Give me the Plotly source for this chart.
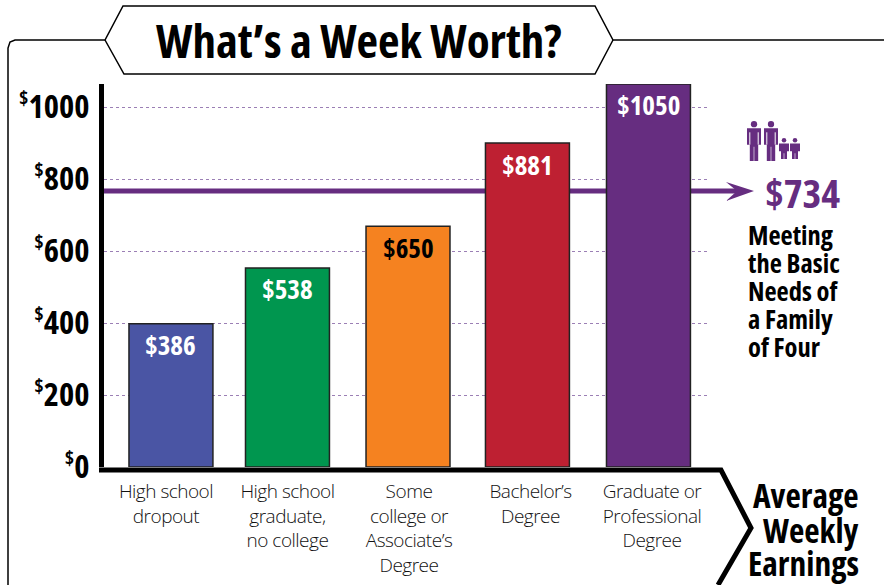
import plotly.graph_objects as go

categories = ["High school<br>dropout", "High school<br>graduate,<br>no college",
              "Some<br>college or<br>Associate’s<br>Degree", "Bachelor’s<br>Degree",
              "Graduate or<br>Professional<br>Degree"]
bar_heights = [398, 553, 669, 900, 1064]      # heights as drawn in the picture
bar_labels = ["$386", "$538", "$650", "$881", "$1050"]
bar_colors = ["#4A55A4", "#00964F", "#F58220", "#BE2032", "#662D80"]
label_colors = ["white", "white", "black", "white", "white"]
bar_shift = [0.041, 0, -0.008, -0.025, -0.029]
y_ticks = [0, 200, 400, 600, 800, 1000]
family_line = 767                             # as drawn
family_label = "$734"
side_lines = ["Meeting", "the Basic", "Needs of", "a Family", "of Four"]
corner_lines = ["Average", "Weekly", "Earnings"]
title_text = "What’s a Week Worth?"

W, H = 884, 585
PURPLE = "#662D80"
BOLD = "Open Sans"
BAR_W = 0.691
px = lambda x: x / W
py = lambda y: 1 - y / H
def path(pts, close=False):
    return "M " + " L ".join(f"{px(x):.5f},{py(y):.5f}" for x, y in pts) + (" Z" if close else "")

fig = go.Figure(go.Bar(
    x=categories, y=bar_heights, width=BAR_W, offset=[s - BAR_W / 2 for s in bar_shift],
    marker=dict(color=bar_colors, line=dict(color="#222222", width=1.5)),
    hoverinfo="skip",
))

shapes = [
    dict(type="path", xref="paper", yref="paper", line=dict(color="black", width=1.5),
         path=path([(8, 585), (8, 48), (10, 42), (15, 40), (105, 40), (123, 6), (595, 6), (613, 40), (884, 40)])),
    dict(type="path", xref="paper", yref="paper", line=dict(color="black", width=1.5),
         path=path([(105, 40), (124, 74), (595, 74), (613, 40)])),
    dict(type="path", xref="paper", yref="paper", line=dict(color="black", width=5),
         path=path([(99, 470), (721, 470), (751, 528), (718, 585)])),
    dict(type="line", xref="paper", yref="y", x0=px(104), x1=px(738), y0=family_line, y1=family_line,
         layer="below", line=dict(color=PURPLE, width=5)),
    dict(type="path", xref="paper", yref="paper", fillcolor=PURPLE, line=dict(width=0),
         path=path([(726, 182), (754, 191), (726, 201), (737, 191)], True)),
]
def person(cx, top, bottom, hw, arms):
    r = hw * 0.45
    neck = top + 2 * r + 1
    hip = neck + (bottom - neck) * 0.5
    shapes.append(dict(type="circle", xref="paper", yref="paper", fillcolor=PURPLE, line=dict(width=0),
                       x0=px(cx - r), x1=px(cx + r), y0=py(top), y1=py(top + 2 * r)))
    shapes.append(dict(type="path", xref="paper", yref="paper", fillcolor=PURPLE, line=dict(width=0),
                       path=path([(cx - hw, neck), (cx + hw, neck), (cx + hw, hip), (cx + hw * .6, hip),
                                  (cx + hw * .6, bottom), (cx + .3, bottom), (cx + .3, hip + 2), (cx - .3, hip + 2),
                                  (cx - .3, bottom), (cx - hw * .6, bottom), (cx - hw * .6, hip), (cx - hw, hip)], True)))
    if arms:
        for s in (-1, 1):
            shapes.append(dict(type="line", xref="paper", yref="paper", line=dict(color="white", width=1),
                               x0=px(cx + s * hw * .6), x1=px(cx + s * hw * .6), y0=py(neck + 4), y1=py(hip)))
person(754, 121, 161, 7, True)
person(771, 121, 161, 7, True)
person(784, 138, 159, 5, False)
person(795, 138, 159, 5, False)

annotations = [
    dict(x=px(359), y=py(40), xref="paper", yref="paper", text=f"<b>{title_text}</b>", showarrow=False,
         font=dict(family=BOLD, size=47, color="black"), xanchor="center", yanchor="middle"),
    dict(x=px(802), y=py(193), xref="paper", yref="paper", text=f"<b>{family_label}</b>", showarrow=False,
         font=dict(family=BOLD, size=40, color=PURPLE), xanchor="center", yanchor="middle"),
]
for i, (lab, col, h) in enumerate(zip(bar_labels, label_colors, bar_heights)):
    annotations.append(dict(x=i + bar_shift[i], y=h, yshift=-21, xref="x", yref="y", text=f"<b>{lab}</b>",
                            showarrow=False, font=dict(family=BOLD, size=27, color=col),
                            xanchor="center", yanchor="middle"))
for i, t in enumerate(side_lines):
    annotations.append(dict(x=px(747), y=py(235 + 28 * i), xref="paper", yref="paper", text=f"<b>{t}</b>",
                            showarrow=False, font=dict(family=BOLD, size=26.5, color="black"),
                            xanchor="left", yanchor="middle", xshift=-1))
for t, y in zip(corner_lines, [495, 530, 563]):
    annotations.append(dict(x=px(861), y=py(y), xref="paper", yref="paper", text=f"<b>{t}</b>",
                            showarrow=False, font=dict(family=BOLD, size=33.5, color="black"),
                            xanchor="right", yanchor="middle"))

fig.update_layout(
    width=W, height=H, margin=dict(l=0, r=0, t=0, b=0), showlegend=False,
    paper_bgcolor="white", plot_bgcolor="white", shapes=shapes, annotations=annotations,
    xaxis=dict(domain=[px(104), px(708)], type="category", range=[-0.51, 4.461], showgrid=False, showline=False,
               automargin=False, ticks="", tickfont=dict(family=BOLD, size=19, color="#111111", weight=300),
               tickangle=0, ticklabelstandoff=11),
    yaxis=dict(domain=[py(467), py(84)], range=[0, 1064], tickvals=y_ticks, automargin=False,
               ticktext=[f'<b><sup><span style="font-size:20px">$</span></sup>{v}</b>' for v in y_ticks],
               tickfont=dict(family=BOLD, size=32.5, color="black"), showline=True, linecolor="black", linewidth=5,
               ticks="", ticklabelstandoff=3, zeroline=False,
               showgrid=True, gridcolor="#9B7FB5", gridwidth=1, griddash="dot"),
)
css = ("var s=document.createElement('style');"
       "s.textContent='svg text{font-stretch:75%} .xtick text{font-stretch:100%;letter-spacing:-0.5px}';"
       "document.head.appendChild(s);")
# redraw once the condensed style is active, so annotation boxes are measured with it
redraw = ("var gd=document.getElementById('{plot_id}');"
          "gd.layout.annotations.forEach(function(a){a.font.size+=0.01;});"
          "Plotly.newPlot(gd,gd.data,gd.layout,{displayModeBar:false});")
fig.write_html("out.html", config=dict(displayModeBar=False),
               post_script="document.body.style.margin='0';document.body.style.overflow='hidden';" + css + redraw)
